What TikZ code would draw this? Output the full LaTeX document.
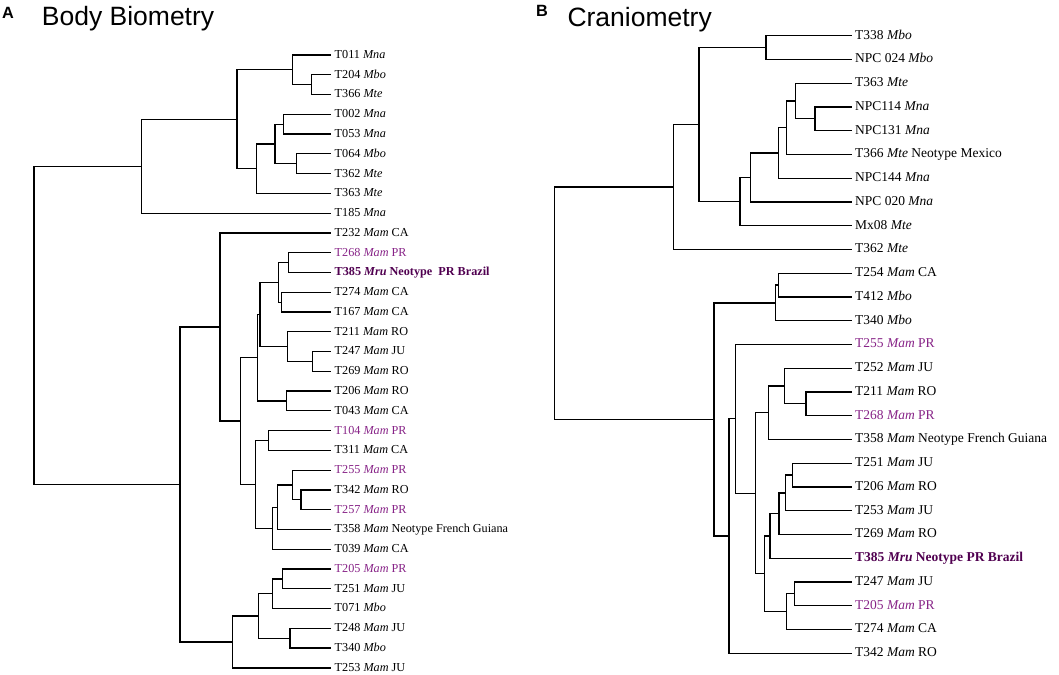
\documentclass[tikz,border=0pt]{standalone}
\usepackage{fontspec}
\setmainfont{Liberation Serif}
\setsansfont{Liberation Sans}
\definecolor{prcol}{RGB}{135,35,135}
\definecolor{neocol}{RGB}{80,0,80}

\begin{document}
\begin{tikzpicture}[x=1pt,y=-1pt,
  branch/.style={line width=1.25pt,line cap=rect},
  leafA/.style={anchor=west,inner xsep=4.5pt,inner ysep=0pt,text height=0.68em,text depth=0pt,font=\fontsize{12.2}{14}\selectfont},
  leafB/.style={leafA,inner xsep=4pt,font=\fontsize{13.5}{15}\selectfont},
  pr/.style={text=prcol},
  neo/.style={text=neocol},
  panel/.style={anchor=base west,inner sep=0pt,font=\sffamily\bfseries\fontsize{16.3}{18}\selectfont},
  heading/.style={anchor=base west,inner sep=0pt,font=\sffamily\fontsize{26.5}{30}\selectfont}]
\useasboundingbox (0,0) rectangle (1059,674);

\node[panel] (A) at (2,18.3) {A};
\node[heading] (titleA) at (41.7,26) {Body Biometry};
\node[panel] (B) at (536,16.7) {B};
\node[heading] (titleB) at (567.3,26.5) {Craniometry};

% body biometry
\begin{scope}[shift={(0pt,-55pt)},y=-19.77pt]
\node[leafA] (a0) at (330,0) {T011 \textit{Mna}};
\node[leafA] (a1) at (330,1) {T204 \textit{Mbo}};
\node[leafA] (a2) at (330,2) {T366 \textit{Mte}};
\node[leafA] (a3) at (330,3) {T002 \textit{Mna}};
\node[leafA] (a4) at (330,4) {T053 \textit{Mna}};
\node[leafA] (a5) at (330,5) {T064 \textit{Mbo}};
\node[leafA] (a6) at (330,6) {T362 \textit{Mte}};
\node[leafA] (a7) at (330,7) {T363 \textit{Mte}};
\node[leafA] (a8) at (330,8) {T185 \textit{Mna}};
\node[leafA] (a9) at (330,9) {T232 \textit{Mam} CA};
\node[leafA,pr] (a10) at (330,10) {T268 \textit{Mam} PR};
\node[leafA,neo] (a11) at (330,11) {\textbf{T385 \textit{Mru} Neotype\ \ PR Brazil}};
\node[leafA] (a12) at (330,12) {T274 \textit{Mam} CA};
\node[leafA] (a13) at (330,13) {T167 \textit{Mam} CA};
\node[leafA] (a14) at (330,14) {T211 \textit{Mam} RO};
\node[leafA] (a15) at (330,15) {T247 \textit{Mam} JU};
\node[leafA] (a16) at (330,16) {T269 \textit{Mam} RO};
\node[leafA] (a17) at (330,17) {T206 \textit{Mam} RO};
\node[leafA] (a18) at (330,18) {T043 \textit{Mam} CA};
\node[leafA,pr] (a19) at (330,19) {T104 \textit{Mam} PR};
\node[leafA] (a20) at (330,20) {T311 \textit{Mam} CA};
\node[leafA,pr] (a21) at (330,21) {T255 \textit{Mam} PR};
\node[leafA] (a22) at (330,22) {T342 \textit{Mam} RO};
\node[leafA,pr] (a23) at (330,23) {T257 \textit{Mam} PR};
\node[leafA] (a24) at (330,24) {T358 \textit{Mam} Neotype French Guiana};
\node[leafA] (a25) at (330,25) {T039 \textit{Mam} CA};
\node[leafA,pr] (a26) at (330,26) {T205 \textit{Mam} PR};
\node[leafA] (a27) at (330,27) {T251 \textit{Mam} JU};
\node[leafA] (a28) at (330,28) {T071 \textit{Mbo}};
\node[leafA] (a29) at (330,29) {T248 \textit{Mam} JU};
\node[leafA] (a30) at (330,30) {T340 \textit{Mbo}};
\node[leafA] (a31) at (330,31) {T253 \textit{Mam} JU};

\coordinate (p1) at (311.7,1.5);
\coordinate (p2) at (292.7,0.75);
\coordinate (p3) at (283.3,3.5);
\coordinate (p4) at (296.7,5.5);
\coordinate (p5) at (275,4.5);
\coordinate (p6) at (256.7,5.75);
\coordinate (p7) at (237,3.25);
\coordinate (p8) at (141.7,5.625);
\coordinate (q1) at (288.7,10.5);
\coordinate (q2) at (281.7,12.5);
\coordinate (q3) at (278.3,11.5);
\coordinate (q4) at (312.3,15.5);
\coordinate (q5) at (287.3,14.75);
\coordinate (q6) at (260,13.125);
\coordinate (q7) at (286.7,17.5);
\coordinate (q8) at (257.3,15.3125);
\coordinate (q9) at (268.3,19.5);
\coordinate (q10) at (301,22.5);
\coordinate (q11) at (292.7,21.75);
\coordinate (q12) at (277.3,22.875);
\coordinate (q13) at (272.3,23.9375);
\coordinate (q14) at (255.7,21.71875);
\coordinate (q15) at (240.7,18.515625);
\coordinate (q16) at (220,13.7578);
\coordinate (r1) at (282.3,26.5);
\coordinate (r2) at (272.3,27.25);
\coordinate (r3) at (290,29.5);
\coordinate (r4) at (258.3,28.375);
\coordinate (r5) at (232.3,29.6875);
\coordinate (q17) at (180,21.7227);
\coordinate (rootA) at (34,13.6738);

\foreach \from/\to in {p2/a0.west,p2/p1,p1/a1.west,p1/a2.west,p3/a3.west,p3/a4.west,
  p4/a5.west,p4/a6.west,p5/p3,p5/p4,p6/p5,p6/a7.west,p7/p2,p7/p6,p8/p7,p8/a8.west,
  q1/a10.west,q1/a11.west,q2/a12.west,q2/a13.west,q3/q1,q3/q2,q4/a15.west,q4/a16.west,
  q5/a14.west,q5/q4,q6/q3,q6/q5,q7/a17.west,q7/a18.west,q8/q6,q8/q7,q9/a19.west,q9/a20.west,
  q10/a22.west,q10/a23.west,q11/a21.west,q11/q10,q12/q11,q12/a24.west,q13/q12,q13/a25.west,
  q14/q9,q14/q13,q15/q8,q15/q14,q16/a9.west,q16/q15,
  r1/a26.west,r1/a27.west,r2/r1,r2/a28.west,r3/a29.west,r3/a30.west,r4/r2,r4/r3,
  r5/r4,r5/a31.west,q17/q16,q17/r5,rootA/p8,rootA/q17}
  \draw[branch] (\from) |- (\to);
\end{scope}

% craniometry
\begin{scope}[shift={(0pt,-35.7pt)},y=-23.75pt]
\node[leafB] (b0) at (851,0) {T338 \textit{Mbo}};
\node[leafB] (b1) at (851,1) {NPC 024 \textit{Mbo}};
\node[leafB] (b2) at (851,2) {T363 \textit{Mte}};
\node[leafB] (b3) at (851,3) {NPC114 \textit{Mna}};
\node[leafB] (b4) at (851,4) {NPC131 \textit{Mna}};
\node[leafB] (b5) at (851,5) {T366 \textit{Mte} Neotype Mexico};
\node[leafB] (b6) at (851,6) {NPC144 \textit{Mna}};
\node[leafB] (b7) at (851,7) {NPC 020 \textit{Mna}};
\node[leafB] (b8) at (851,8) {Mx08 \textit{Mte}};
\node[leafB] (b9) at (851,9) {T362 \textit{Mte}};
\node[leafB] (b10) at (851,10) {T254 \textit{Mam} CA};
\node[leafB] (b11) at (851,11) {T412 \textit{Mbo}};
\node[leafB] (b12) at (851,12) {T340 \textit{Mbo}};
\node[leafB,pr] (b13) at (851,13) {T255 \textit{Mam} PR};
\node[leafB] (b14) at (851,14) {T252 \textit{Mam} JU};
\node[leafB] (b15) at (851,15) {T211 \textit{Mam} RO};
\node[leafB,pr] (b16) at (851,16) {T268 \textit{Mam} PR};
\node[leafB] (b17) at (851,17) {T358 \textit{Mam} Neotype French Guiana};
\node[leafB] (b18) at (851,18) {T251 \textit{Mam} JU};
\node[leafB] (b19) at (851,19) {T206 \textit{Mam} RO};
\node[leafB] (b20) at (851,20) {T253 \textit{Mam} JU};
\node[leafB] (b21) at (851,21) {T269 \textit{Mam} RO};
\node[leafB,neo] (b22) at (851,22) {\textbf{T385 \textit{Mru} Neotype PR Brazil}};
\node[leafB] (b23) at (851,23) {T247 \textit{Mam} JU};
\node[leafB,pr] (b24) at (851,24) {T205 \textit{Mam} PR};
\node[leafB] (b25) at (851,25) {T274 \textit{Mam} CA};
\node[leafB] (b26) at (851,26) {T342 \textit{Mam} RO};

\coordinate (s1) at (766,0.5);
\coordinate (s2) at (815,3.5);
\coordinate (s3) at (795.7,2.75);
\coordinate (s4) at (786.7,3.875);
\coordinate (s5) at (778.3,4.9375);
\coordinate (s6) at (750.7,5.96875);
\coordinate (s7) at (740,6.984375);
\coordinate (s8) at (699,3.7422);
\coordinate (s9) at (673.3,6.3711);
\coordinate (t1) at (778.3,10.5);
\coordinate (t2) at (775.7,11.25);
\coordinate (t3) at (806,15.5);
\coordinate (t4) at (784.3,14.75);
\coordinate (t5) at (768.3,15.875);
\coordinate (t6) at (792.3,18.5);
\coordinate (t7) at (785.7,19.25);
\coordinate (t8) at (779,20.125);
\coordinate (t9) at (770,21.0625);
\coordinate (t10) at (794.3,23.5);
\coordinate (t11) at (786.7,24.25);
\coordinate (t12) at (764.3,22.65625);
\coordinate (t13) at (755.7,19.2656);
\coordinate (t14) at (735.7,16.1328);
\coordinate (t15) at (729,21.0664);
\coordinate (t16) at (714,16.1582);
\coordinate (rootB) at (554.3,11.2646);

\foreach \from/\to in {s1/b0.west,s1/b1.west,s2/b3.west,s2/b4.west,s3/b2.west,s3/s2,
  s4/s3,s4/b5.west,s5/s4,s5/b6.west,s6/s5,s6/b7.west,s7/s6,s7/b8.west,s8/s1,s8/s7,
  s9/s8,s9/b9.west,t1/b10.west,t1/b11.west,t2/t1,t2/b12.west,t3/b15.west,t3/b16.west,
  t4/b14.west,t4/t3,t5/t4,t5/b17.west,t6/b18.west,t6/b19.west,t7/t6,t7/b20.west,
  t8/t7,t8/b21.west,t9/t8,t9/b22.west,t10/b23.west,t10/b24.west,t11/t10,t11/b25.west,
  t12/t9,t12/t11,t13/t5,t13/t12,t14/b13.west,t14/t13,t15/t14,t15/b26.west,
  t16/t2,t16/t15,rootB/s9,rootB/t16}
  \draw[branch] (\from) |- (\to);
\end{scope}
\end{tikzpicture}
\end{document}
